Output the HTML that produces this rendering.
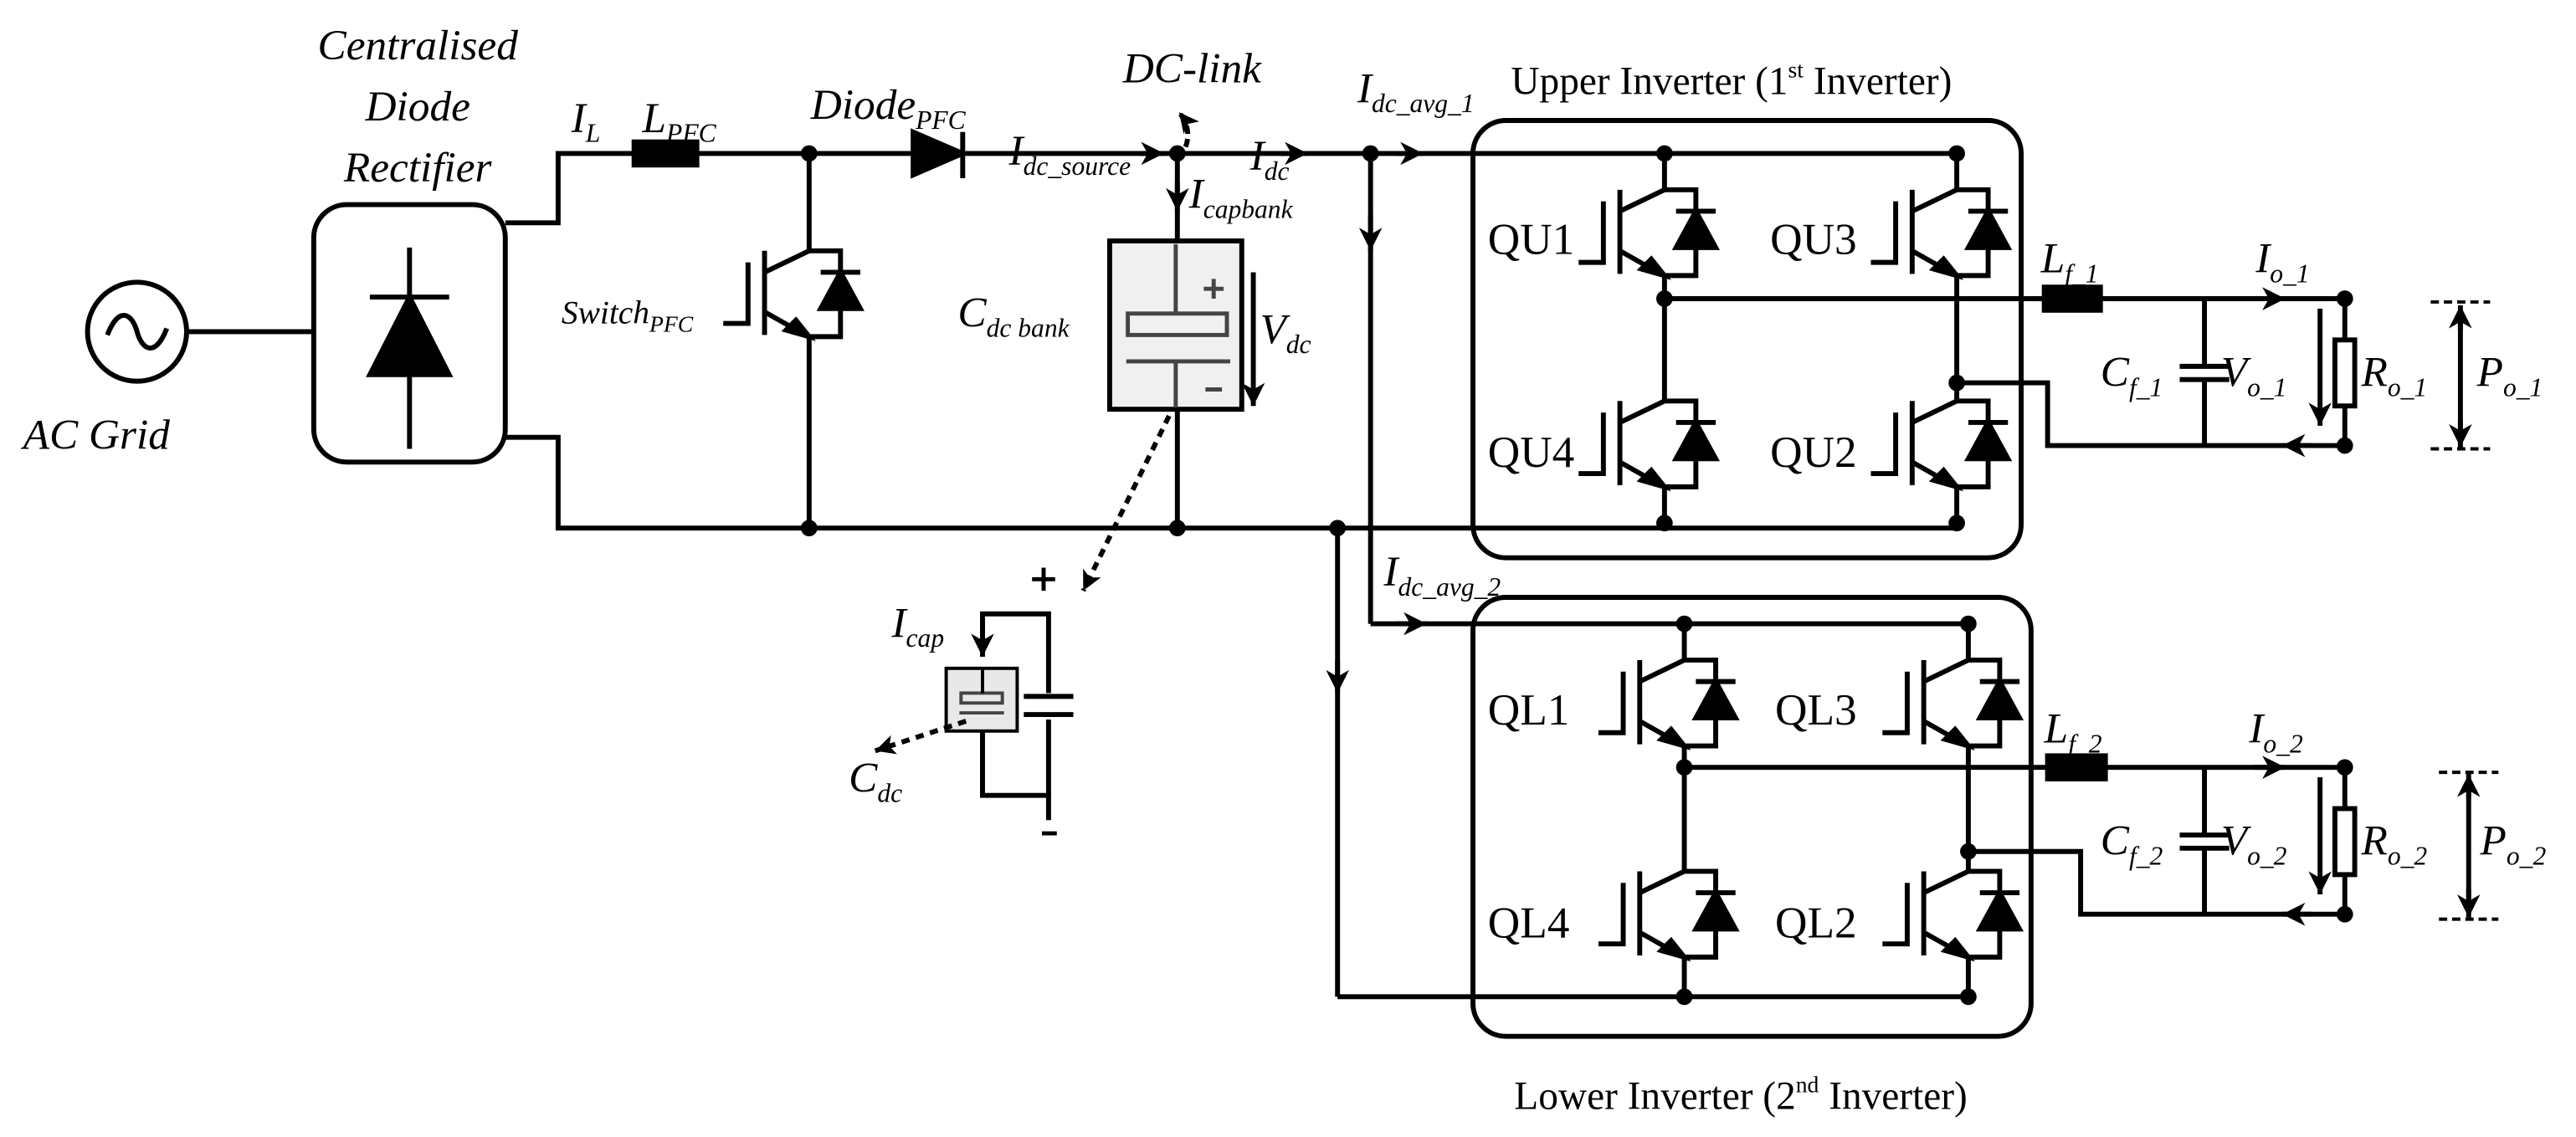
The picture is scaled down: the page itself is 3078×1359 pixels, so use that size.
<!DOCTYPE html>
<html><head><meta charset="utf-8"><style>
html,body{margin:0;padding:0;background:#fff;}
svg{display:block;font-family:"Liberation Serif","DejaVu Serif",serif}
text{font-family:"Liberation Serif","DejaVu Serif",serif;fill:#000}
.i{font-style:italic;font-size:26px}
.q{font-size:27px}
.s{font-size:16px}
</style></head><body>
<svg width="3078" height="1359" viewBox="0 0 1560 689" preserveAspectRatio="none" xmlns="http://www.w3.org/2000/svg">
<defs>
<marker id="a" markerUnits="userSpaceOnUse" markerWidth="16" markerHeight="14" refX="14" refY="7" orient="auto"><path d="M0,0 L14,7 L0,14 L4,7 Z" fill="#000"/></marker>
<marker id="d" markerUnits="userSpaceOnUse" markerWidth="14" markerHeight="12" refX="12" refY="6" orient="auto"><path d="M0,0 L12,6 L0,12 L3,6 Z" fill="#000"/></marker>
<g id="igbt" stroke="#000" stroke-width="3" fill="none">
<line x1="-27" y1="0" x2="-27" y2="51"/>
<polyline points="-37,7 -37,44 -52,44"/>
<line x1="-27" y1="13" x2="0" y2="0"/>
<line x1="-27" y1="37" x2="-4" y2="50"/>
<path d="M0,52 L-14,48 L-8,42 Z" fill="#000"/>
<polyline points="0,0 19,0 19,52 0,52"/>
<path d="M7,35 L31,35 L19,13 Z" fill="#000"/>
<line x1="7" y1="13" x2="31" y2="13"/>
</g>
</defs>
<g stroke="#000" stroke-width="3" fill="none">
<circle cx="83" cy="201" r="30"/>
<path d="M65,203 C72,185 80,190 83,201 C86,212 94,217 101,199"/>
<line x1="113" y1="201" x2="190" y2="201"/>
<rect x="190" y="124" width="116" height="156" rx="20"/>
<line x1="248" y1="150" x2="248" y2="272"/>
<line x1="224" y1="180" x2="272" y2="180"/>
<path d="M224,227 L272,227 L248,180 Z" fill="#000"/>
<polyline points="306,135 338,135 338,93 1185,93"/>
<polyline points="306,265 338,265 338,320 1185,320"/>
<rect x="384" y="86" width="38" height="14" fill="#000"/>
<line x1="490" y1="93" x2="490" y2="152"/>
<line x1="490" y1="204" x2="490" y2="320"/>
<path d="M553,80 L583,93 L553,106 Z" fill="#000"/>
<line x1="583" y1="80" x2="583" y2="108"/>
<path d="M690,93 L705,93" marker-end="url(#a)"/>
<path d="M775,93 L792,93" marker-end="url(#a)"/>
<path d="M845,93 L862,93" marker-end="url(#a)"/>
<path d="M718,89 Q722,78 714,68" stroke-dasharray="5,3" marker-end="url(#d)"/>
<line x1="713" y1="93" x2="713" y2="146"/>
<path d="M713,110 L713,128" marker-end="url(#a)"/>
<rect x="672" y="146" width="80" height="102" fill="#f0f0f0"/>
<g stroke="#444" stroke-width="2.5">
<line x1="712" y1="148" x2="712" y2="190"/>
<rect x="683" y="190" width="60" height="13"/>
<line x1="682" y1="219" x2="745" y2="219"/>
<line x1="712" y1="219" x2="712" y2="247"/>
<line x1="729" y1="175" x2="741" y2="175"/><line x1="735" y1="169" x2="735" y2="181"/>
<line x1="730" y1="236" x2="740" y2="236"/>
</g>
<line x1="713" y1="248" x2="713" y2="320"/>
<path d="M759,165 L759,246" marker-end="url(#a)"/>
<path d="M708,252 L656,358" stroke-dasharray="5,4" marker-end="url(#d)"/>
<polyline points="595,395 595,372 635,372 635,420"/>
<path d="M595,375 L595,398" marker-end="url(#a)"/>
<polyline points="595,443 595,482 635,482 635,497"/>
<line x1="635" y1="436" x2="635" y2="482"/>
<line x1="620" y1="422" x2="650" y2="422"/>
<path d="M620,433 L650,433" />
<rect x="573" y="405" width="43" height="38" fill="#e8e8e8" stroke-width="2"/>
<rect x="582" y="420" width="25" height="6" stroke="#444" stroke-width="2"/>
<line x1="581" y1="432" x2="608" y2="432" stroke="#444" stroke-width="2"/>
<line x1="595" y1="405" x2="595" y2="420" stroke-width="2"/>
<path d="M585,437 L530,455" stroke-dasharray="5,4" marker-end="url(#d)"/>
<line x1="830" y1="93" x2="830" y2="378"/>
<path d="M830,130 L830,152" marker-end="url(#a)"/>
<line x1="830" y1="378" x2="1192" y2="378"/>
<path d="M845,378 L864,378" marker-end="url(#a)"/>
<line x1="810" y1="320" x2="810" y2="604"/>
<path d="M810,400 L810,420" marker-end="url(#a)"/>
<line x1="810" y1="604" x2="1192" y2="604"/>
<rect x="892" y="73" width="332" height="265" rx="20"/>
<line x1="1008" y1="93" x2="1008" y2="115"/>
<line x1="1008" y1="167" x2="1008" y2="243"/>
<line x1="1008" y1="295" x2="1008" y2="320"/>
<line x1="1185" y1="93" x2="1185" y2="115"/>
<line x1="1185" y1="167" x2="1185" y2="243"/>
<line x1="1185" y1="295" x2="1185" y2="320"/>
<line x1="1008" y1="181" x2="1420" y2="181"/>
<rect x="1238" y="174" width="34" height="14" fill="#000"/>
<polyline points="1185,232 1240,232 1240,270 1420,270"/>
<path d="M1400,270 L1382,270" marker-end="url(#a)"/>
<path d="M1365,181 L1384,181" marker-end="url(#a)"/>
<line x1="1335" y1="181" x2="1335" y2="222"/><line x1="1320" y1="222" x2="1350" y2="222"/>
<line x1="1320" y1="230" x2="1350" y2="230"/><line x1="1335" y1="230" x2="1335" y2="270"/>
<line x1="1420" y1="181" x2="1420" y2="206"/><rect x="1414" y="206" width="12" height="40"/><line x1="1420" y1="246" x2="1420" y2="270"/>
<path d="M1405,187 L1405,258" marker-end="url(#a)"/>
<path d="M1490,200 L1490,185" marker-end="url(#a)"/>
<path d="M1490,255 L1490,271" marker-end="url(#a)"/>
<line x1="1490" y1="195" x2="1490" y2="262"/>
<line x1="1472" y1="183" x2="1508" y2="183" stroke-dasharray="5,3" stroke-width="2"/>
<line x1="1472" y1="272" x2="1508" y2="272" stroke-dasharray="5,3" stroke-width="2"/>
<rect x="892" y="362" width="338" height="266" rx="20"/>
<line x1="1020" y1="378" x2="1020" y2="400"/>
<line x1="1020" y1="452" x2="1020" y2="528"/>
<line x1="1020" y1="580" x2="1020" y2="604"/>
<line x1="1192" y1="378" x2="1192" y2="400"/>
<line x1="1192" y1="452" x2="1192" y2="528"/>
<line x1="1192" y1="580" x2="1192" y2="604"/>
<line x1="1020" y1="465" x2="1420" y2="465"/>
<rect x="1240" y="458" width="35" height="14" fill="#000"/>
<polyline points="1192,516 1260,516 1260,554 1420,554"/>
<path d="M1400,554 L1382,554" marker-end="url(#a)"/>
<path d="M1365,465 L1384,465" marker-end="url(#a)"/>
<line x1="1335" y1="465" x2="1335" y2="506"/><line x1="1320" y1="506" x2="1350" y2="506"/>
<line x1="1320" y1="514" x2="1350" y2="514"/><line x1="1335" y1="514" x2="1335" y2="554"/>
<line x1="1420" y1="465" x2="1420" y2="490"/><rect x="1414" y="490" width="12" height="40"/><line x1="1420" y1="530" x2="1420" y2="554"/>
<path d="M1405,471 L1405,542" marker-end="url(#a)"/>
<path d="M1495,484 L1495,469" marker-end="url(#a)"/>
<path d="M1495,539 L1495,556" marker-end="url(#a)"/>
<line x1="1495" y1="480" x2="1495" y2="545"/>
<line x1="1477" y1="468" x2="1513" y2="468" stroke-dasharray="5,3" stroke-width="2"/>
<line x1="1477" y1="557" x2="1513" y2="557" stroke-dasharray="5,3" stroke-width="2"/>
<line x1="625" y1="351" x2="639" y2="351" stroke-width="2.5"/><line x1="632" y1="344" x2="632" y2="358" stroke-width="2.5"/>
<line x1="631" y1="505" x2="640" y2="505" stroke-width="2.5"/>
</g>
<use href="#igbt" x="490" y="152"/>
<use href="#igbt" x="1008" y="115"/>
<use href="#igbt" x="1008" y="243"/>
<use href="#igbt" x="1185" y="115"/>
<use href="#igbt" x="1185" y="243"/>
<use href="#igbt" x="1020" y="400"/>
<use href="#igbt" x="1020" y="528"/>
<use href="#igbt" x="1192" y="400"/>
<use href="#igbt" x="1192" y="528"/>
<g fill="#000">
<circle cx="490" cy="93" r="5"/><circle cx="490" cy="320" r="5"/>
<circle cx="713" cy="93" r="5"/><circle cx="713" cy="320" r="5"/>
<circle cx="830" cy="93" r="5"/><circle cx="810" cy="320" r="5"/>
<circle cx="1008" cy="93" r="5"/><circle cx="1185" cy="93" r="5"/>
<circle cx="1008" cy="181" r="5"/><circle cx="1185" cy="232" r="5"/>
<circle cx="1008" cy="317" r="5"/><circle cx="1185" cy="317" r="5"/>
<circle cx="1420" cy="181" r="5"/><circle cx="1420" cy="270" r="5"/>
<circle cx="1020" cy="378" r="5"/><circle cx="1192" cy="378" r="5"/>
<circle cx="1020" cy="465" r="5"/><circle cx="1192" cy="516" r="5"/>
<circle cx="1020" cy="604" r="5"/><circle cx="1192" cy="604" r="5"/>
<circle cx="1420" cy="465" r="5"/><circle cx="1420" cy="554" r="5"/>
</g>
<text class="i" x="253" y="36" text-anchor="middle">Centralised</text>
<text class="i" x="253" y="73" text-anchor="middle">Diode</text>
<text class="i" x="253" y="110" text-anchor="middle">Rectifier</text>
<text class="i" x="14" y="272">AC Grid</text>
<text class="i" x="346" y="80">I<tspan class="s" dy="6">L</tspan></text>
<text class="i" x="389" y="80">L<tspan class="s" dy="6">PFC</tspan></text>
<text class="i" x="491" y="72">Diode<tspan class="s" dy="6">PFC</tspan></text>
<text class="i" x="611" y="100">I<tspan class="s" dy="6">dc_source</tspan></text>
<text class="i" x="680" y="50">DC-link</text>
<text class="i" x="757" y="103">I<tspan class="s" dy="6">dc</tspan></text>
<text class="i" x="822" y="62">I<tspan class="s" dy="6">dc_avg_1</tspan></text>
<text x="915" y="57" style="font-size:24px">Upper Inverter (1<tspan style="font-size:14px" dy="-10">st</tspan><tspan dy="10"> Inverter)</tspan></text>
<text class="i" x="720" y="126">I<tspan class="s" dy="6">capbank</tspan></text>
<text class="i" x="340" y="196" style="font-size:20px">Switch<tspan style="font-size:14px" dy="5">PFC</tspan></text>
<text class="i" x="580" y="198">C<tspan class="s" dy="6">dc bank</tspan></text>
<text class="i" x="763" y="208">V<tspan class="s" dy="6">dc</tspan></text>
<text class="i" x="540" y="386">I<tspan class="s" dy="6">cap</tspan></text>
<text class="i" x="514" y="480">C<tspan class="s" dy="6">dc</tspan></text>
<text class="i" x="838" y="355">I<tspan class="s" dy="6">dc_avg_2</tspan></text>
<text class="q" x="901" y="154">QU1</text>
<text class="q" x="1072" y="154">QU3</text>
<text class="q" x="901" y="283">QU4</text>
<text class="q" x="1072" y="283">QU2</text>
<text class="q" x="901" y="439">QL1</text>
<text class="q" x="1075" y="439">QL3</text>
<text class="q" x="901" y="568">QL4</text>
<text class="q" x="1075" y="568">QL2</text>
<text class="i" x="1236" y="165">L<tspan class="s" dy="6">f_1</tspan></text>
<text class="i" x="1366" y="165">I<tspan class="s" dy="6">o_1</tspan></text>
<text class="i" x="1272" y="234">C<tspan class="s" dy="6">f_1</tspan></text>
<text class="i" x="1345" y="234">V<tspan class="s" dy="6">o_1</tspan></text>
<text class="i" x="1430" y="234">R<tspan class="s" dy="6">o_1</tspan></text>
<text class="i" x="1500" y="234">P<tspan class="s" dy="6">o_1</tspan></text>
<text class="i" x="1238" y="450">L<tspan class="s" dy="6">f_2</tspan></text>
<text class="i" x="1362" y="450">I<tspan class="s" dy="6">o_2</tspan></text>
<text class="i" x="1272" y="518">C<tspan class="s" dy="6">f_2</tspan></text>
<text class="i" x="1345" y="518">V<tspan class="s" dy="6">o_2</tspan></text>
<text class="i" x="1430" y="518">R<tspan class="s" dy="6">o_2</tspan></text>
<text class="i" x="1502" y="518">P<tspan class="s" dy="6">o_2</tspan></text>
<text x="917" y="672" style="font-size:24px">Lower Inverter (2<tspan style="font-size:14px" dy="-10">nd</tspan><tspan dy="10"> Inverter)</tspan></text>
</svg>
</body></html>
